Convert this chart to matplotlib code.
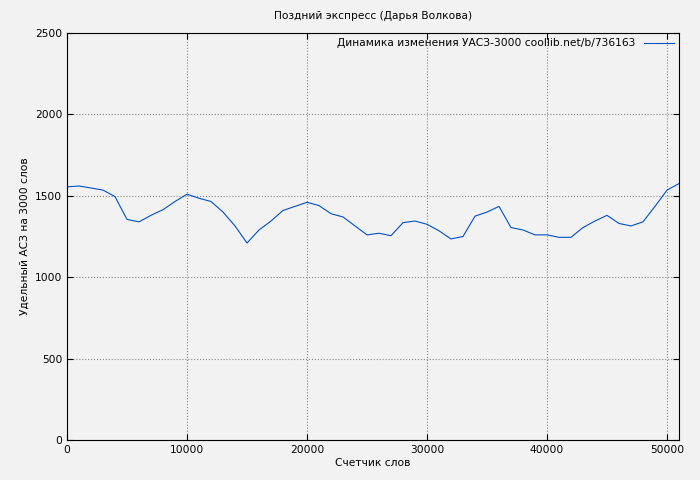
import matplotlib
matplotlib.use("Agg")
import matplotlib.pyplot as plt

words = list(range(0, 52000, 1000))
values = [1555,1560,1548,1535,1495,1355,1340,1380,1415,1465,1510,1485,1465,1400,1315,1210,
          1290,1345,1410,1435,1460,1440,1390,1370,1315,1260,1270,1255,1335,1345,1325,1285,
          1235,1250,1375,1400,1435,1305,1290,1260,1260,1245,1245,1305,1345,1380,1330,1315,
          1340,1435,1535,1575]
xticks = [0, 10000, 20000, 30000, 40000, 50000]
yticks = [0, 500, 1000, 1500, 2000, 2500]

fs = 7.7
plt.rcParams['font.family'] = ['DejaVu Sans']
fig = plt.figure(figsize=(7, 4.8), dpi=100, facecolor='#f2f2f2')
ax = fig.add_axes([67/700, 40/480, 612/700, 407/480])
ax.set_facecolor('#f2f2f2')
ax.plot(words, values, color='#0050c8', lw=0.8, label='Динамика изменения УАСЗ-3000 coollib.net/b/736163')
ax.set_xlim(0, 51000)
ax.set_ylim(0, 2500)
ax.set_xticks(xticks)
ax.set_yticks(yticks)
ax.tick_params(direction='in', labelsize=fs, length=4, top=True, right=True)
ax.grid(True, color='#888888', linestyle=':', lw=0.8)
ax.set_title('Поздний экспресс (Дарья Волкова)', fontsize=fs, pad=10)
ax.set_xlabel('Счетчик слов', fontsize=fs, labelpad=2)
ax.set_ylabel('Удельный АСЗ на 3000 слов', fontsize=fs)
ax.legend(loc='upper right', fontsize=fs, frameon=False, markerfirst=False, handlelength=2.8,
          borderaxespad=0.1)
fig.savefig('out.png', dpi=100, facecolor='#f2f2f2')
